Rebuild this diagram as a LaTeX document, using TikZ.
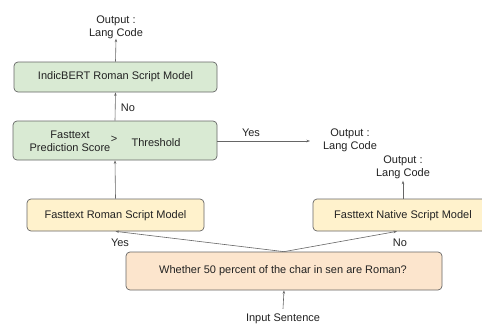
\documentclass[tikz,border=0pt]{standalone}
\usepackage{fontspec}
\setmainfont{Liberation Sans}
\usetikzlibrary{arrows.meta}
\definecolor{lgreen}{HTML}{D9EAD3}
\definecolor{lyellow}{HTML}{FFF2CC}
\definecolor{lorange}{HTML}{FCE5CD}
\definecolor{edge}{HTML}{666666}
\definecolor{txt}{HTML}{222222}
\tikzset{
  box/.style={draw=edge, line width=0.7pt, rounded corners=4pt, inner sep=0pt},
  lbl/.style={font=\fontsize{11}{13}\selectfont, text=txt, inner sep=0pt, align=center},
  conn/.style={draw=edge, line width=0.6pt, -{Stealth[length=3.5pt,width=2.5pt]}}
}
\begin{document}
\begin{tikzpicture}[x=1pt,y=-1pt]
\useasboundingbox[clip] (0,0) rectangle (482,325);
\fill[white] (0,0) rectangle (482,325);
% boxes
\node[box, fill=lgreen, minimum width=203pt, minimum height=30pt] (indic) at (115.5,77) {};
\node[lbl] (indict) at (115.5,77) {IndicBERT Roman Script Model};
\node[box, fill=lgreen, minimum width=204pt, minimum height=39pt] (pred) at (115,140.5) {};
\node[lbl] (predt) at (70,141) {Fasttext\\Prediction Score};
\node[lbl] (gt) at (114,139) {>};
\node[lbl] (thr) at (156,143) {Threshold};
\node[box, fill=lyellow, minimum width=177pt, minimum height=32pt] (roman) at (115.5,215) {};
\node[lbl] (romant) at (115.5,215.5) {Fasttext Roman Script Model};
\node[box, fill=lyellow, minimum width=177pt, minimum height=32pt] (native) at (401.5,215) {};
\node[lbl] (nativet) at (403,215.5) {Fasttext Native Script Model};
\node[box, fill=lorange, minimum width=316pt, minimum height=38pt] (dec) at (284,271) {};
\node[lbl] (dect) at (283,270.5) {Whether 50 percent of the char in sen are Roman?};
% outputs
\node[lbl] (outtop) at (116,27) {Output :\\Lang Code};
\node[lbl] (outyes) at (350,140.5) {Output :\\Lang Code};
\node[lbl] (outnat) at (403,167.5) {Output :\\Lang Code};
\node[lbl] (input) at (283,319) {Input Sentence};
\coordinate (yesend) at (310,141);
% connectors
\draw[conn] (indic.north) -- (outtop.south);
\draw[conn] (pred.north) -- (indic.south);
\draw[conn] (roman.north) -- (pred.south);
\draw[conn] (pred.east |- yesend) -- (yesend);
\draw[conn] (native.north -| outnat.south) -- ([yshift=-1.5pt]outnat.south);
\draw[conn] (dec.north) -- (roman.south);
\draw[conn] (dec.north) -- ([xshift=-4.5pt]native.south);
\draw[conn] (input.north) ++(0,-5) -- (dec.south);
% labels
\node[lbl] (lno1) at (128,108) {No};
\node[lbl] (lyes1) at (251,133) {Yes};
\node[lbl] (lyes2) at (120,243) {Yes};
\node[lbl] (lno2) at (400,243) {No};
\end{tikzpicture}
\end{document}
